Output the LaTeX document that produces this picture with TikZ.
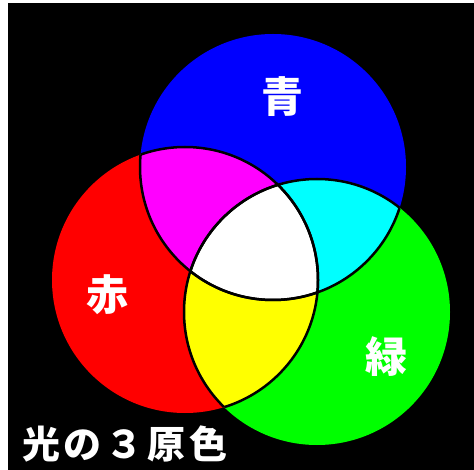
\documentclass[tikz,border=0pt]{standalone}
\usepackage{fontspec}
\newfontfamily\jp{Noto Sans CJK JP}
\newfontfamily\jpsp{Noto Sans CJK JP}[LetterSpace=10]
\definecolor{cB}{RGB}{0,0,255}
\definecolor{cR}{RGB}{255,0,0}
\definecolor{cG}{RGB}{0,255,0}
\definecolor{cM}{RGB}{255,0,255}
\definecolor{cC}{RGB}{0,255,255}
\definecolor{cY}{RGB}{255,255,0}
\tikzset{
  lbl/.style={text=white, inner sep=0pt, font=\jp\bfseries\fontsize{42}{42}\selectfont},
  ttl/.style={text=white, inner sep=0pt, anchor=west, font=\jpsp\bfseries\fontsize{38}{38}\selectfont},
  edge/.style={draw=black, line width=2.5pt},
}
\begin{document}
\begin{tikzpicture}[x=1pt,y=-1pt]
\useasboundingbox (0,0) rectangle (474,470);
\fill[white] (0,0) rectangle (474,470);
\fill[black] (8,3) rectangle (474,470);
\coordinate (B) at (273,167);
\coordinate (R) at (185,280);
\coordinate (G) at (317,312);
\def\rr{133pt}
\fill[cB] (B) circle[radius=\rr];
\fill[cR] (R) circle[radius=\rr];
\fill[cG] (G) circle[radius=\rr];
\begin{scope}
  \clip (B) circle[radius=\rr];
  \fill[cM] (R) circle[radius=\rr];
  \fill[cC] (G) circle[radius=\rr];
\end{scope}
\begin{scope}
  \clip (R) circle[radius=\rr];
  \fill[cY] (G) circle[radius=\rr];
  \clip (G) circle[radius=\rr];
  \fill[white] (B) circle[radius=\rr];
\end{scope}
% inner outlines
\begin{scope}\clip (R) circle[radius=\rr]; \draw[edge] (B) circle[radius=\rr]; \draw[edge] (G) circle[radius=\rr];\end{scope}
\begin{scope}\clip (G) circle[radius=\rr]; \draw[edge] (B) circle[radius=\rr]; \draw[edge] (R) circle[radius=\rr];\end{scope}
\begin{scope}\clip (B) circle[radius=\rr]; \draw[edge] (R) circle[radius=\rr]; \draw[edge] (G) circle[radius=\rr];\end{scope}
\node[lbl] (ao) at (282,97) {青};
\node[lbl] (aka) at (107,295) {赤};
\node[lbl] (midori) at (386,357) {緑};
\node[ttl] (title) at (22,444) {光の３原色};
\end{tikzpicture}
\end{document}
